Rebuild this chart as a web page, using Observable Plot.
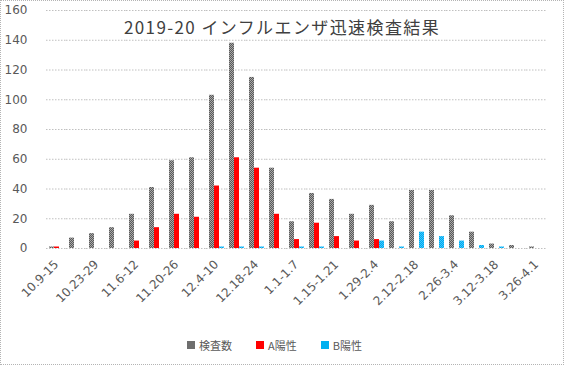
<!DOCTYPE html>
<html>
<head>
<meta charset="utf-8">
<script src="https://cdn.jsdelivr.net/npm/d3@7"></script>
<script src="https://cdn.jsdelivr.net/npm/@observablehq/plot@0.6"></script>
<style>
  body { margin: 0; background: #fff; }
  #wrap { position: relative; width: 564px; height: 365px; overflow: hidden; background: #fff; }
  #frame { position: absolute; left: 0; top: 0; width: 564px; height: 365px; box-sizing: border-box; border: 1px dotted #b4b4b4; pointer-events: none; }
  #title { position: absolute; left: 0; width: 564px; top: 15px; text-align: center; font-family: "Noto Sans CJK JP", sans-serif; font-size: 17px; letter-spacing: 1.4px; color: #404040; line-height: 24px; }
  #legend { position: absolute; top: 337px; left: 187px; display: flex; align-items: center; font-family: "Noto Sans CJK JP", sans-serif; font-size: 11px; color: #595959; }
  .item { display: flex; align-items: center; margin-right: 24px; }
  .sw { width: 8px; height: 8px; margin-right: 4px; }
  #chart { position: absolute; left: 0; top: 0; }
  #chart svg text { font-family: "DejaVu Sans", sans-serif; }
</style>
</head>
<body>
<div id="wrap">
  <div id="chart"></div>
  <div id="title">2019-20 インフルエンザ迅速検査結果</div>
  <div id="legend"></div>
  <div id="frame"></div>
</div>
<script>
const weeks = ["10.9-15","10.16-22","10.23-29","10.30-11.5","11.6-12","11.13-19","11.20-26","11.27-12.3","12.4-10","12.11-17","12.18-24","12.25-31","1.1-1.7","1.8-1.14","1.15-1.21","1.22-1.28","1.29-2.4","2.5-2.11","2.12-2.18","2.19-2.25","2.26-3.4","3.5-3.11","3.12-3.18","3.19-3.25","3.26-4.1"];
const shownLabels = ["10.9-15","10.23-29","11.6-12","11.20-26","12.4-10","12.18-24","1.1-1.7","1.15-1.21","1.29-2.4","2.12-2.18","2.26-3.4","3.12-3.18","3.26-4.1"];
const seriesNames = ["検査数","A陽性","B陽性"];
const tests = [1,7,10,14,23,41,59,61,103,138,115,54,18,37,33,23,29,18,39,39,22,11,3,2,1];
const aPos  = [1,0,0,0,5,14,23,21,42,61,54,23,6,17,8,5,6,0,0,0,0,0,0,0,0];
const bPos  = [0,0,0,0,0,0,0,0,1,1,1,0,1,1,0,0,5,1,11,8,5,2,1,0,0];
const yTicks = [0,20,40,60,80,100,120,140,160];
const seriesColors = ["url(#patGray)", "#ff0000", "url(#patBlue)"];
const swatchColors = ["#6e6e6e", "#ff0000", "#00b0f0"];

const seriesValues = [tests, aPos, bPos];
const data = weeks.flatMap((w, i) => seriesNames.map((s, j) => ({week: w, series: s, value: seriesValues[j][i]})));

const svg = Plot.plot({
  width: 564,
  height: 320,
  marginLeft: 38,
  marginRight: 10,
  marginTop: 10,
  marginBottom: 72,
  style: {fontFamily: "DejaVu Sans, sans-serif", fontSize: "12px", color: "#595959", background: "transparent", overflow: "visible"},
  fx: {domain: weeks, padding: 0, label: null, tickRotate: -45, tickSize: 0, tickPadding: 14, tickFormat: d => shownLabels.includes(d) ? d : ""},
  x: {domain: seriesNames, axis: null, paddingInner: 0, paddingOuter: 0.375},
  y: {domain: [0, 160], ticks: yTicks, tickSize: 0, tickPadding: 19, label: null},
  color: {domain: seriesNames, range: seriesColors},
  marks: [
    Plot.ruleY(yTicks, {stroke: "#c0c0c0", strokeDasharray: "1.5,1.5"}),
    Plot.barY(data, {fx: "week", x: "series", y: "value", fill: "series"})
  ]
});
svg.insertAdjacentHTML("afterbegin", `<defs>
<pattern id="patGray" width="2" height="2" patternUnits="userSpaceOnUse">
<rect width="2" height="2" fill="#5a5a5a"/><rect width="1" height="1" fill="#a8a8a8"/><rect x="1" y="1" width="1" height="1" fill="#a8a8a8"/>
</pattern>
<pattern id="patBlue" width="2" height="2" patternUnits="userSpaceOnUse">
<rect width="2" height="2" fill="#00a8ec"/><rect width="1" height="1" fill="#40c8ff"/><rect x="1" y="1" width="1" height="1" fill="#40c8ff"/>
</pattern></defs>`);
document.getElementById("chart").appendChild(svg);

const legend = document.getElementById("legend");
seriesNames.forEach((s, i) => {
  const it = document.createElement("div");
  it.className = "item";
  it.innerHTML = `<div class="sw" style="background:${swatchColors[i]}"></div><span>${s}</span>`;
  legend.appendChild(it);
});
</script>
</body>
</html>
